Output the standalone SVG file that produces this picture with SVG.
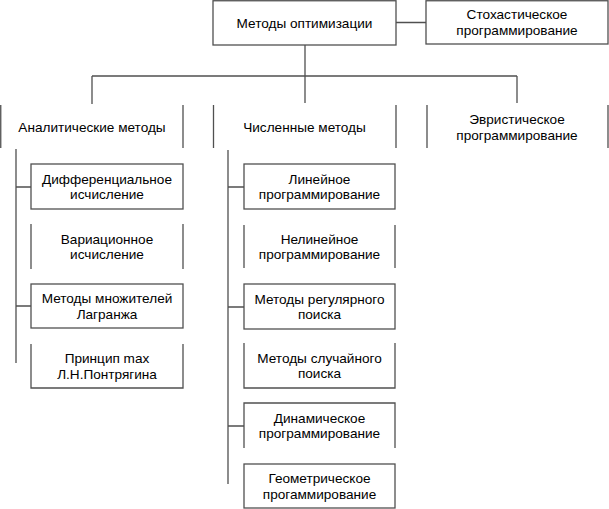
<svg xmlns="http://www.w3.org/2000/svg" width="609" height="509" viewBox="0 0 609 509">
<style>
.b{fill:none;stroke:#505050;stroke-width:1.3}
.c{fill:none;stroke:#505050;stroke-width:1.3}
text{font-family:"Liberation Sans",Arial,sans-serif;font-size:13.6px;fill:#000;text-anchor:middle}
</style>
<rect width="609" height="509" fill="#fff"/>
<g id="connectors">
<path class="c" d="M305 45V103M92 76H517M92 76V104M517 76V103M396 22.5H426"/>
<path class="c" d="M16 149V363M16 187H31M16 306H31"/>
<path class="c" d="M228 150V484M228 187H244M228 307H244M228 426H244"/>
</g>
<g id="n-main"><rect class="b" x="213" y="0.75" width="183" height="44.25"/><text x="304.5" y="27.5">Методы оптимизации</text></g>
<g id="n-stoch"><rect class="b" x="426" y="0.75" width="182" height="43.25"/><text x="517" y="19">Стохастическое</text><text x="517" y="34.5">программирование</text></g>
<g id="n-analytic"><path class="b" d="M0.75 105V148M183 105V148"/><text x="92" y="131.5">Аналитические методы</text></g>
<g id="n-numeric"><path class="b" d="M213.5 105V148M396 105V148"/><text x="304.5" y="131.5">Численные методы</text></g>
<g id="n-heuristic"><path class="b" d="M427 105V148M608 105V148"/><text x="517" y="124">Эвристическое</text><text x="517" y="139.5">программирование</text></g>
<g id="n-diff"><rect class="b" x="31" y="164" width="152" height="45"/><text x="107" y="183.5">Дифференциальное</text><text x="107" y="199">исчисление</text></g>
<g id="n-var"><path class="b" d="M31 224V269M183 224V269"/><text x="107" y="243.5">Вариационное</text><text x="107" y="259">исчисление</text></g>
<g id="n-lagr"><rect class="b" x="31" y="284" width="152" height="44"/><text x="107" y="303">Методы множителей</text><text x="107" y="318.5">Лагранжа</text></g>
<g id="n-pontr"><path class="b" d="M31 344V388H183V344"/><text x="107" y="363">Принцип max</text><text x="107" y="378.5">Л.Н.Понтрягина</text></g>
<g id="n-lin"><rect class="b" x="244" y="164" width="151" height="45"/><text x="319.5" y="183.5">Линейное</text><text x="319.5" y="199">программирование</text></g>
<g id="n-nonlin"><path class="b" d="M244 225V268M395 225V268"/><text x="319.5" y="243.5">Нелинейное</text><text x="319.5" y="259">программирование</text></g>
<g id="n-reg"><rect class="b" x="244" y="284" width="151" height="45"/><text x="319.5" y="303.5">Методы регулярного</text><text x="319.5" y="319">поиска</text></g>
<g id="n-rand"><path class="b" d="M244 343V388H395V343"/><text x="319.5" y="362.5">Методы случайного</text><text x="319.5" y="378">поиска</text></g>
<g id="n-dyn"><path class="b" d="M244 448V403H395V448"/><text x="319.5" y="422.5">Динамическое</text><text x="319.5" y="438">программирование</text></g>
<g id="n-geom"><rect class="b" x="244" y="464" width="151" height="44"/><text x="319.5" y="483">Геометрическое</text><text x="319.5" y="498.5">прогаммирование</text></g>
</svg>
